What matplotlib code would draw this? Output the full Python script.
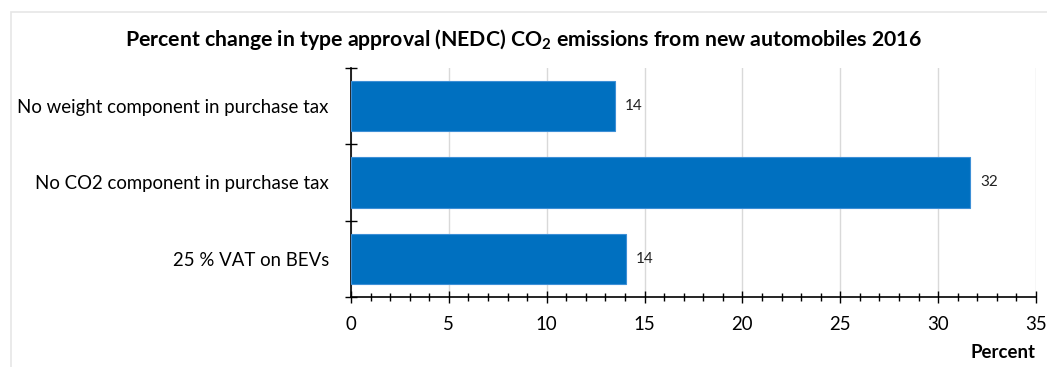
import matplotlib
matplotlib.use("Agg")
import matplotlib.pyplot as plt
from matplotlib.patches import Rectangle
from matplotlib.ticker import MultipleLocator

categories = ["25 % VAT on BEVs", "No CO2 component in purchase tax", "No weight component in purchase tax"]
values = [14.05, 31.65, 13.5]
labels = ["14", "32", "14"]

plt.rcParams["font.family"] = ["Lato", "DejaVu Sans"]
plt.rcParams["mathtext.fontset"] = "custom"
plt.rcParams["mathtext.rm"] = "Lato"
plt.rcParams["mathtext.bf"] = "Lato:bold"

fig = plt.figure(figsize=(10.47, 3.67), dpi=100)
ax = fig.add_axes([351 / 1047, 1 - 297 / 367, 685 / 1047, 229 / 367])

# light frame around the chart area
fig.patches.append(Rectangle((11 / 1047, -0.1), 1.2, 1 - 12 / 367 + 0.1,
                             transform=fig.transFigure, fill=False,
                             edgecolor="#e6e6e6", linewidth=1.2))

pos = range(len(categories))
ax.barh(pos, values, height=0.66, color="#0070C0", edgecolor="#3d8fd6", linewidth=0.8, zorder=3)
for p, v, t in zip(pos, values, labels):
    ax.text(v + 0.5, p, t, va="center", ha="left", fontsize=11, color="#222222")

ax.set_xlim(0, 35)
ax.set_ylim(-0.5, 2.5)
ax.xaxis.set_major_locator(MultipleLocator(5))
ax.xaxis.set_minor_locator(MultipleLocator(1))
ax.set_yticks([-0.5, 0.5, 1.5, 2.5])
ax.set_yticklabels([])
ax.set_yticks(list(pos), minor=True)
ax.set_yticklabels(categories, minor=True, fontsize=13.4)
ax.tick_params(axis="y", which="minor", length=0, pad=16)
ax.tick_params(axis="y", which="major", direction="inout", length=9, width=1)
ax.tick_params(axis="x", which="major", direction="inout", length=8, width=1, labelsize=13.4, pad=10)
ax.tick_params(axis="x", which="minor", direction="inout", length=6, width=1)

ax.grid(axis="x", which="major", color="#d9d9d9", linewidth=1, zorder=0)
for s in ["top", "right"]:
    ax.spines[s].set_visible(False)
ax.spines["left"].set_linewidth(1.2)
ax.spines["bottom"].set_linewidth(1.2)

fig.text(1036 / 1047, 1 - 353 / 367, "Percent", ha="right", va="center",
         fontsize=13.4, fontweight="bold")

fig.text(0.5, 1 - 40 / 367,
         r"Percent change in type approval (NEDC) CO$_\mathbf{2}$ emissions from new automobiles 2016",
         ha="center", va="center", fontsize=15.3, fontweight="bold")

fig.savefig("out.png", dpi=100)
